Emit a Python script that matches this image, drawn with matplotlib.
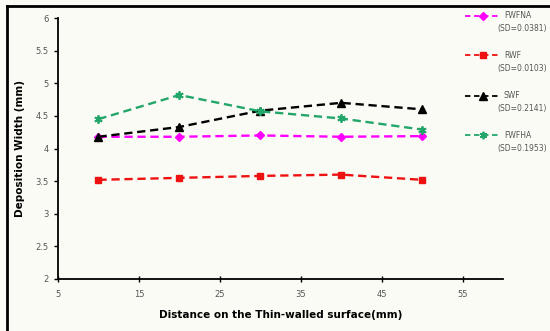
import matplotlib
matplotlib.use("Agg")
import matplotlib.pyplot as plt
from matplotlib.lines import Line2D

distance = [10, 20, 30, 40, 50]
fwfna = [4.18, 4.18, 4.20, 4.18, 4.19]
rwf = [3.52, 3.55, 3.58, 3.60, 3.52]
swf = [4.18, 4.33, 4.58, 4.70, 4.60]
fwfha = [4.45, 4.82, 4.57, 4.46, 4.29]

names = ["FWFNA", "RWF", "SWF", "FWFHA"]
sds = ["(SD=0.0381)", "(SD=0.0103)", "(SD=0.2141)", "(SD=0.1953)"]
xticks = [5, 15, 25, 35, 45, 55]
yticks = [2, 2.5, 3, 3.5, 4, 4.5, 5, 5.5, 6]

bg = "#fbfbf5"
fig = plt.figure(figsize=(5.5, 3.31), dpi=100, facecolor=bg)
ax = fig.add_axes([58/550, 1-279/331, (503-58)/550, (279-18)/331])
ax.set_facecolor(bg)

styles = [
    dict(color="#ff00ff", marker="D", ms=4.5),
    dict(color="#ee1111", marker="s", ms=5),
    dict(color="#000000", marker="^", ms=6),
    dict(color="#22a66a", marker=(6, 2, 0), ms=6, mew=1.3),
]
series = [fwfna, rwf, swf, fwfha]
for ys, st in zip(series, styles):
    ax.plot(distance, ys, ls=(0, (3.5, 2)), lw=1.7, **st)

ax.set_xlim(5, 60)
ax.set_ylim(2, 6)
ax.set_xticks(xticks)
ax.set_yticks(yticks)
ax.set_yticklabels([f"{v:g}" for v in yticks])
for s in ["top", "right"]:
    ax.spines[s].set_visible(False)
for s in ["left", "bottom"]:
    ax.spines[s].set_linewidth(1.3)
ax.tick_params(axis="both", labelsize=6, labelcolor="#555555", length=3, width=1)
ax.tick_params(axis="x", direction="inout", length=4, pad=6)
ax.set_xlabel("Distance on the Thin-walled surface(mm)", fontsize=7.5, fontweight="bold", labelpad=8)
ax.set_ylabel("Deposition Width (mm)", fontsize=7.5, fontweight="bold", labelpad=8)

# manual legend
entry_y = [16, 55, 96, 135]
for name, sd, st, yy in zip(names, sds, styles, entry_y):
    fy = 1 - yy/331
    l = Line2D([465/550, 500/550], [fy, fy], transform=fig.transFigure,
               ls=(0, (3, 2)), lw=1.3, color=st["color"])
    fig.add_artist(l)
    m = Line2D([483/550], [fy], transform=fig.transFigure, ls="none",
               marker=st["marker"], ms=st["ms"]*0.9, color=st["color"],
               mew=st.get("mew", 1))
    fig.add_artist(m)
    fig.text(504/550, fy, name, fontsize=5.5, color="#555555", va="center", ha="left")
    fig.text(497/550, 1 - (yy+13)/331, sd, fontsize=5.5, color="#555555", va="center", ha="left")

# outer frame: top and left edges only
fig.add_artist(Line2D([7/550, 1], [1-6/331, 1-6/331], transform=fig.transFigure, lw=2, color="black"))
fig.add_artist(Line2D([7/550, 7/550], [0, 1-6/331], transform=fig.transFigure, lw=2, color="black"))
fig.savefig("out.png", dpi=100, facecolor=bg)
